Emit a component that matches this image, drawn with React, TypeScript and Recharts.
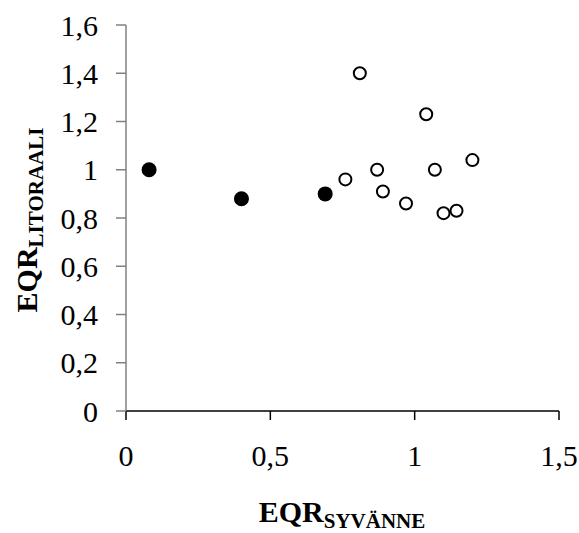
import React from 'react';
import { ScatterChart, Scatter, XAxis, YAxis } from 'recharts';

const filledX = [0.08, 0.4, 0.69];
const filledY = [1.0, 0.88, 0.9];
const openX = [0.76, 0.81, 0.87, 0.89, 0.97, 1.04, 1.07, 1.1, 1.145, 1.2];
const openY = [0.96, 1.4, 1.0, 0.91, 0.86, 1.23, 1.0, 0.82, 0.83, 1.04];
const xTicks = [0, 0.5, 1, 1.5];
const yTicks = [0, 0.2, 0.4, 0.6, 0.8, 1, 1.2, 1.4, 1.6];

const filled = filledX.map((x, i) => ({ x, y: filledY[i] }));
const open = openX.map((x, i) => ({ x, y: openY[i] }));

const font = "'Liberation Serif'";
const fmt = (v: number) => String(v).replace('.', ',');

const FilledDot = (p: any) => <circle cx={p.cx} cy={p.cy} r={7.5} fill="#000" />;
const OpenDot = (p: any) => (
  <circle cx={p.cx} cy={p.cy} r={6} fill="#fff" stroke="#000" strokeWidth={2} />
);

const xLabel = () => (
  <text x={342} y={522} textAnchor="middle" fontFamily={font} fontWeight="bold" fill="#000">
    <tspan fontSize={30}>EQR</tspan>
    <tspan fontSize={21} dy={6}>SYVÄNNE</tspan>
  </text>
);

const yLabel = () => (
  <text
    transform="translate(37, 220) rotate(-90)"
    x={0}
    y={0}
    textAnchor="middle"
    fontFamily={font}
    fontWeight="bold"
    fill="#000"
  >
    <tspan fontSize={30}>EQR</tspan>
    <tspan fontSize={21} dy={6}>LITORAALI</tspan>
  </text>
);

export default function App() {
  return (
    <div style={{ position: 'absolute', left: 0, top: 0, background: '#fff', fontFamily: font }}>
      <ScatterChart width={579} height={533} margin={{ top: 25, right: 20, bottom: 0, left: 0 }}>
        <XAxis
          type="number"
          dataKey="x"
          domain={[0, 1.5]}
          ticks={xTicks}
          tickFormatter={fmt}
          height={122}
          tickSize={9}
          tickMargin={25}
          stroke="#000"
          strokeWidth={1.5}
          tick={{ fontSize: 30, fontFamily: font, fill: '#000' }}
          label={xLabel}
        />
        <YAxis
          type="number"
          dataKey="y"
          domain={[0, 1.6]}
          ticks={yTicks}
          tickFormatter={fmt}
          width={126}
          tickSize={10}
          tickMargin={18}
          stroke="#808080"
          strokeWidth={1.5}
          tick={{ fontSize: 30, fontFamily: font, fill: '#000' }}
          label={yLabel}
        />
        <Scatter data={filled} shape={FilledDot} isAnimationActive={false} />
        <Scatter data={open} shape={OpenDot} isAnimationActive={false} />
      </ScatterChart>
    </div>
  );
}
